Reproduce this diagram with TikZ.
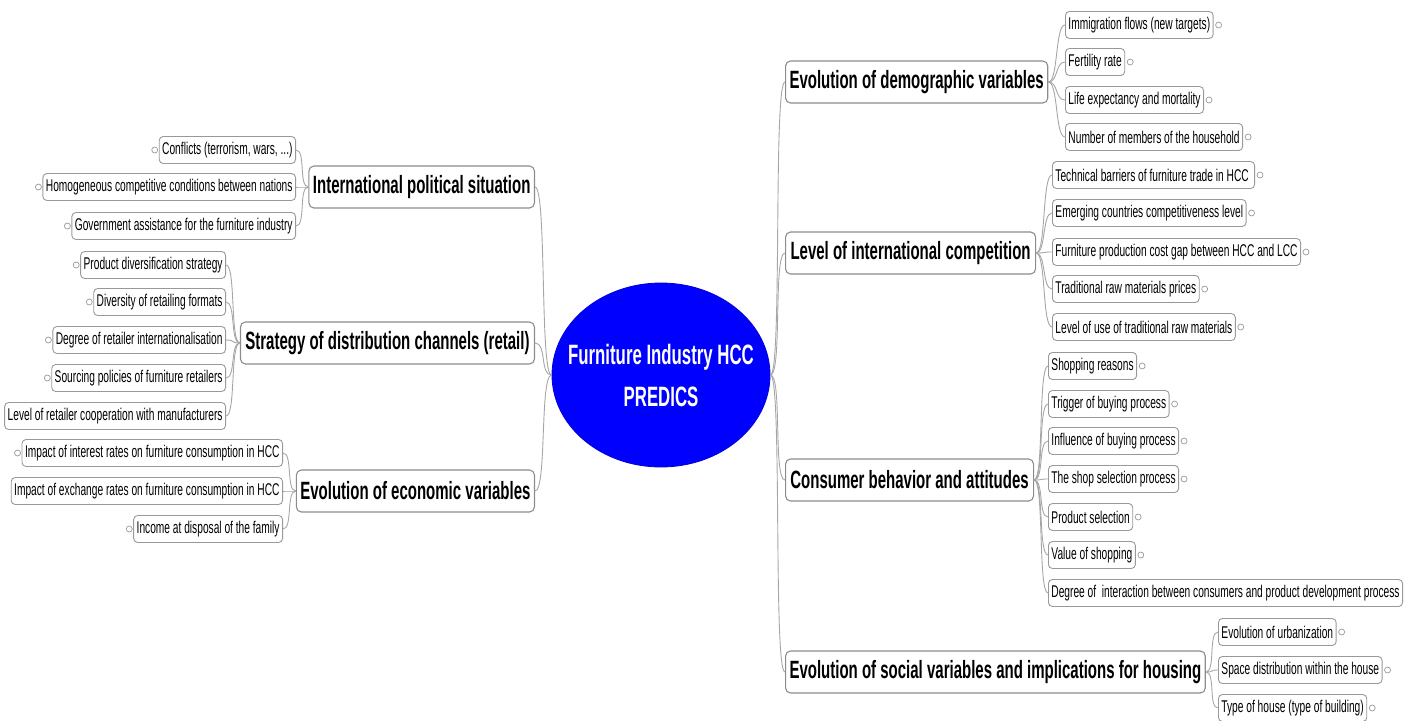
\documentclass[tikz,border=0pt]{standalone}
\usepackage{fontspec}
\newfontfamily\mapfont[FakeStretch=0.6]{Liberation Sans}
\usetikzlibrary{arrows,positioning,shapes.geometric}

\tikzset{
  hub/.style={ellipse, fill=blue, draw=blue!85!black, line width=0.8pt,
    minimum width=218, minimum height=184, inner xsep=-18pt, inner ysep=0pt,
    text=white, align=center,
    font=\mapfont\bfseries\fontsize{28}{42}\selectfont},
  topic/.style={draw=gray!90, line width=1.1pt, rounded corners=5pt,
    minimum height=42, inner xsep=4, inner ysep=0,
    font=\mapfont\bfseries\fontsize{25}{28}\selectfont},
  leaf/.style={draw=gray!80, line width=0.9pt, rounded corners=4pt,
    minimum height=27, inner xsep=3, inner ysep=0,
    font=\mapfont\fontsize{17}{19}\selectfont},
  link/.style={draw=gray!70, line width=0.9pt},
  knob/.style={draw=gray!80, fill=white, line width=0.7pt}
}

\begin{document}
\begin{tikzpicture}[x=1pt,y=-1pt]
	  \useasboundingbox (0,0) rectangle (1413,720);
	  % Central topic
	  \node[hub] (hub) at (661,375) {Furniture Industry HCC\\PREDICS};
	  % Main topics, left side
	  \node[topic, anchor=east, minimum width=224] (ips) at (535,187) {International political situation};
	  \node[topic, anchor=east, minimum width=294] (sdc) at (535,343) {Strategy of distribution channels (retail)};
	  \node[topic, anchor=east, minimum width=238] (eev) at (535,491) {Evolution of economic variables};
	  % Main topics, right side
	  \node[topic, anchor=west, minimum width=261] (edv) at (785,82) {Evolution of demographic variables};
	  \node[topic, anchor=west, minimum width=250] (lic) at (785,253) {Level of international competition};
	  \node[topic, anchor=west, minimum width=248] (cba) at (785,480) {Consumer behavior and attitudes};
	  \node[topic, anchor=west, minimum width=417] (esv) at (785,672) {Evolution of social variables and implications for housing};
	  % Subtopics of the political situation
	  \node[leaf, anchor=east] (ips1) at (296,150) {Conflicts (terrorism, wars, ...)};
	  \node[leaf, anchor=east] (ips2) at (296,187) {Homogeneous competitive conditions between nations};
	  \node[leaf, anchor=east] (ips3) at (296,226) {Government assistance for the furniture industry};
	  % Subtopics of the distribution channels
	  \node[leaf, anchor=east] (sdc1) at (226,265) {Product diversification strategy};
	  \node[leaf, anchor=east] (sdc2) at (226,302) {Diversity of retailing formats};
	  \node[leaf, anchor=east] (sdc3) at (226,340) {Degree of retailer internationalisation};
	  \node[leaf, anchor=east] (sdc4) at (226,378) {Sourcing policies of furniture retailers};
	  \node[leaf, anchor=east] (sdc5) at (226,416) {Level of retailer cooperation with manufacturers};
	  % Subtopics of the economic variables
	  \node[leaf, anchor=east] (eev1) at (283,453) {Impact of interest rates on furniture consumption in HCC};
	  \node[leaf, anchor=east] (eev2) at (283,491) {Impact of exchange rates on furniture consumption in HCC};
	  \node[leaf, anchor=east] (eev3) at (283,529) {Income at disposal of the family};
	  % Subtopics of the demographic variables
	  \node[leaf, anchor=west] (edv1) at (1065,25) {Immigration flows (new targets)};
	  \node[leaf, anchor=west] (edv2) at (1065,62) {Fertility rate};
	  \node[leaf, anchor=west] (edv3) at (1065,100) {Life expectancy and mortality};
	  \node[leaf, anchor=west] (edv4) at (1065,137) {Number of members of\ the household};
	  % Subtopics of the international competition
	  \node[leaf, anchor=west] (lic1) at (1052,175) {Technical barriers of furniture trade in HCC\ \ };
	  \node[leaf, anchor=west] (lic2) at (1052,213) {Emerging countries competitiveness level};
	  \node[leaf, anchor=west] (lic3) at (1052,252) {Furniture production cost gap between HCC and LCC};
	  \node[leaf, anchor=west] (lic4) at (1052,289) {Traditional raw materials prices};
	  \node[leaf, anchor=west] (lic5) at (1052,327) {Level of use of traditional raw materials};
	  % Subtopics of the consumer behavior
	  \node[leaf, anchor=west] (cba1) at (1048,366) {Shopping reasons};
	  \node[leaf, anchor=west] (cba2) at (1048,404) {Trigger of buying process};
	  \node[leaf, anchor=west] (cba3) at (1048,441) {Influence of buying process};
	  \node[leaf, anchor=west] (cba4) at (1048,479) {The shop selection process};
	  \node[leaf, anchor=west] (cba5) at (1048,517) {Product selection};
	  \node[leaf, anchor=west] (cba6) at (1048,555) {Value of shopping};
	  \node[leaf, anchor=west] (cba7) at (1048,593) {Degree of\ \ interaction between consumers and product development process};
	  % Subtopics of the social variables
	  \node[leaf, anchor=west] (esv1) at (1218,632) {Evolution of urbanization};
	  \node[leaf, anchor=west] (esv2) at (1218,670) {Space distribution within the house};
	  \node[leaf, anchor=west] (esv3) at (1218,708) {Type of house (type of building)};
	  % Branches from the central topic
	  \foreach \t in {ips,sdc,eev}
	    \draw[link] (hub.west) .. controls +(-12,0) and +(12,0) .. (\t.east);
	  \foreach \t in {edv,lic,cba,esv}
	    \draw[link] (hub.east) .. controls +(12,0) and +(-12,0) .. (\t.west);
	  % Branches to the subtopics
	  \foreach \t/\n in {ips/3,sdc/5,eev/3}
	    \foreach \i in {1,...,\n}
	      \draw[link] (\t.west) .. controls +(-10,0) and +(10,0) .. (\t\i.east);
	  \foreach \t/\n in {edv/4,lic/5,cba/7,esv/3}
	    \foreach \i in {1,...,\n}
	      \draw[link] (\t.east) .. controls +(10,0) and +(-10,0) .. (\t\i.west);
	  % Collapse knobs
	  \foreach \k in {ips1,ips2,ips3,sdc1,sdc2,sdc3,sdc4,eev1,eev3}
	    \draw[knob] ([xshift=-4pt]\k.west) circle (3pt);
	  \foreach \k in {edv1,edv2,edv3,edv4,lic1,lic2,lic3,lic4,lic5,cba1,cba2,cba3,cba4,cba5,cba6,esv1,esv2,esv3}
	    \draw[knob] ([xshift=5pt]\k.east) circle (3pt);
      \end{tikzpicture}
\end{document}
